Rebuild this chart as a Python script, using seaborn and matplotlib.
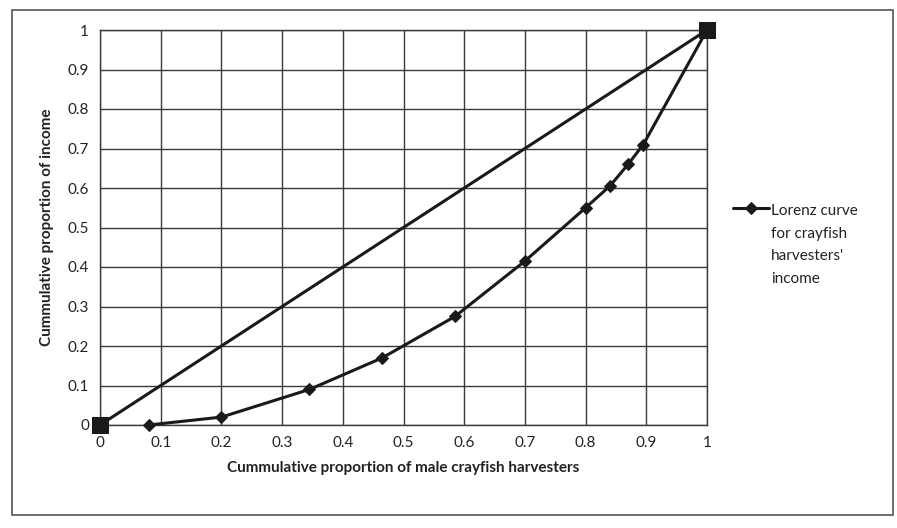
import matplotlib
matplotlib.use("Agg")
import matplotlib.pyplot as plt
import seaborn as sns
import pandas as pd
import numpy as np
from matplotlib.patches import Rectangle

# Data
lorenz_x = [0.08, 0.20, 0.345, 0.465, 0.585, 0.70, 0.80, 0.84, 0.87, 0.895, 1.0]
lorenz_y = [0.0, 0.02, 0.09, 0.17, 0.275, 0.415, 0.55, 0.605, 0.66, 0.71, 1.0]
equality_x = [0.0, 1.0]
equality_y = [0.0, 1.0]
ticks = [0, 0.1, 0.2, 0.3, 0.4, 0.5, 0.6, 0.7, 0.8, 0.9, 1]
tick_labels = ["0", "0.1", "0.2", "0.3", "0.4", "0.5", "0.6", "0.7", "0.8", "0.9", "1"]
legend_label = "Lorenz curve\nfor crayfish\nharvesters'\nincome"

sns.set_style("white")
plt.rcParams["font.family"] = ["Lato", "DejaVu Sans"]

fig = plt.figure(figsize=(8.97, 5.28), dpi=100)
ax = fig.add_axes([100/897, 1-425/528, (707-100)/897, (425-30)/528])

df_eq = pd.DataFrame({"x": equality_x, "y": equality_y})
df_lz = pd.DataFrame({"x": lorenz_x, "y": lorenz_y})

sns.lineplot(data=df_eq, x="x", y="y", ax=ax, color="#1a1a1a", linewidth=2.2,
             marker="s", markersize=11, markeredgecolor="#1a1a1a", sort=False,
             legend=False, zorder=3, clip_on=False)
sns.lineplot(data=df_lz, x="x", y="y", ax=ax, color="#1a1a1a", linewidth=2.2,
             marker="D", markersize=6.5, markeredgecolor="#1a1a1a", sort=False,
             legend=False, zorder=4, clip_on=False)

ax.set_xlim(0, 1)
ax.set_ylim(0, 1)
ax.set_xticks(ticks)
ax.set_xticklabels(tick_labels)
ax.set_yticks(ticks)
ax.set_yticklabels(tick_labels)
ax.grid(True, color="#3a3a3a", linewidth=1.0)
ax.set_axisbelow(True)
for s in ax.spines.values():
    s.set_color("#3a3a3a")
    s.set_linewidth(1.0)
ax.tick_params(axis="both", labelsize=11, colors="#222222", length=0, pad=8)

ax.set_xlabel("Cummulative proportion of male crayfish harvesters",
              fontsize=11, fontweight="bold", color="#222222", labelpad=8)
ax.set_ylabel("Cummulative proportion of income",
              fontsize=11, fontweight="bold", color="#222222", labelpad=10)

handle = ax.lines[-1]
leg = fig.legend([handle], [legend_label], loc="upper left",
                 bbox_to_anchor=(719/897, 1-190/528), frameon=False,
                 fontsize=11, handlelength=2.4, handletextpad=0.1,
                 labelcolor="#222222")
for t in leg.get_texts():
    t.set_linespacing(1.8)
# align legend handle with the first text line
for lh in leg.legend_handles:
    yd = np.asarray(lh.get_ydata(), dtype=float)
    lh.set_ydata(yd + 27)

fig.patches.append(Rectangle((12/897, 1-515/528), (893-12)/897, (515-10)/528,
                             transform=fig.transFigure, fill=False,
                             edgecolor="#555555", linewidth=1.2))

fig.savefig("out.png", dpi=100, facecolor="white")
